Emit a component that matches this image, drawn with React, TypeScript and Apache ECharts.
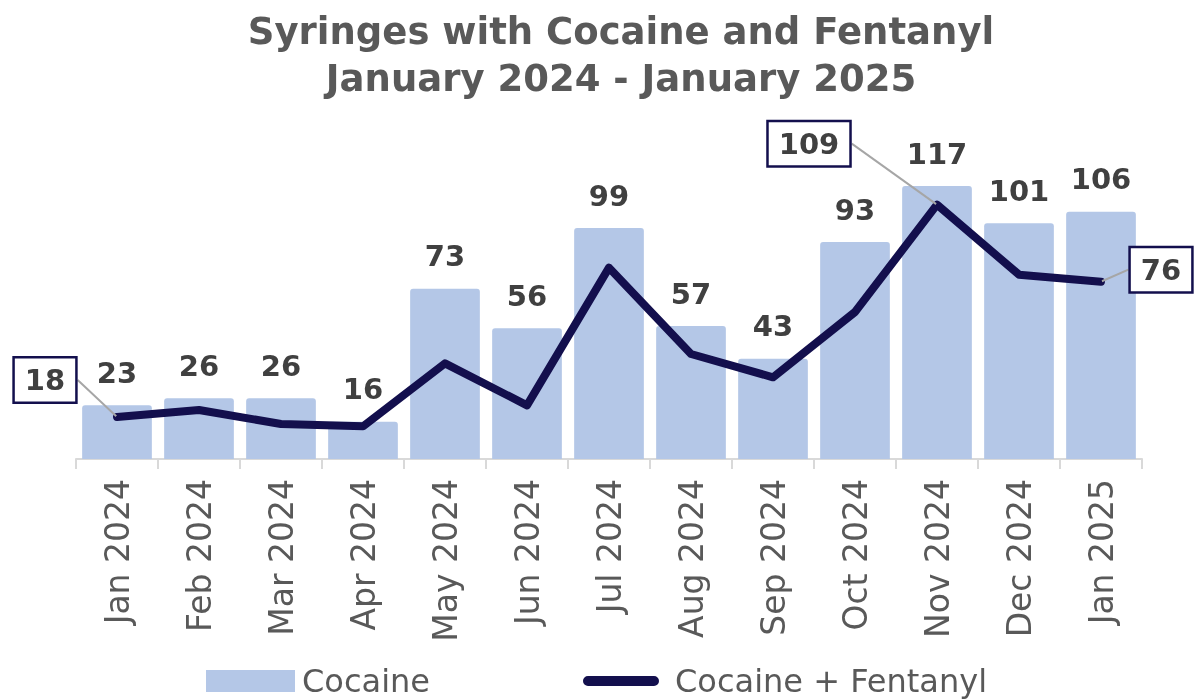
import React, { useEffect, useRef } from "react";
import * as echarts from "echarts";

const months = [
  "Jan 2024", "Feb 2024", "Mar 2024", "Apr 2024", "May 2024", "Jun 2024", "Jul 2024",
  "Aug 2024", "Sep 2024", "Oct 2024", "Nov 2024", "Dec 2024", "Jan 2025",
];
const cocaine = [23, 26, 26, 16, 73, 56, 99, 57, 43, 93, 117, 101, 106];
const cocaineFentanyl = [18, 21, 15, 14, 41, 23, 82, 45, 35, 63, 109, 79, 76];
const calloutIndices = [0, 10, 12];
const calloutOffsets: Record<number, [number, number]> = {
  0: [-72, -37],
  10: [-128, -61],
  12: [60, -12],
};

const FONT = "'DejaVu Sans', 'Noto Sans', sans-serif";
const NAVY = "#130F4D";
const RECT_ICON = "path://M0,0 L89,0 L89,22 L0,22 Z";
const LINE_ICON =
  "path://M0,6 Z M89,6 Z M9,6 L75,6 A5,5 0 0 1 75,16 L9,16 A5,5 0 0 1 9,6 Z";

export default function App() {
  const ref = useRef<HTMLDivElement>(null);
  useEffect(() => {
    document.body.style.margin = "0";
    const chart = echarts.init(ref.current!, undefined, { renderer: "svg" });
    const lineData = cocaineFentanyl.map((v, i) =>
      calloutIndices.includes(i)
        ? {
            value: v,
            label: {
              show: true,
              position: "inside",
              fontFamily: FONT,
              fontSize: 29,
              fontWeight: "bold",
              color: "#404040",
              backgroundColor: "#ffffff",
              borderColor: NAVY,
              borderWidth: 2.5,
              padding: [8, 10, 6, 10],
            },
          }
        : { value: v }
    );
    const legendCommon = {
      top: 665,
      padding: 0,
      itemWidth: 89,
      itemHeight: 22,
      itemGap: 0,
      symbolKeepAspect: true,
      textStyle: {
        fontFamily: FONT,
        fontSize: 32,
        color: "#595959",
        lineHeight: 32,
        padding: [0, 0, 0, 2],
      },
    };
    chart.setOption({
      animation: false,
      title: {
        text: "Syringes with Cocaine and Fentanyl\nJanuary 2024 - January 2025",
        left: 616,
        top: 3,
        textAlign: "center",
        textStyle: {
          fontFamily: FONT,
          fontSize: 37,
          fontWeight: "bold",
          color: "#595959",
          lineHeight: 47,
        },
      },
      legend: [
        { ...legendCommon, left: 206, data: [{ name: "Cocaine", icon: RECT_ICON }] },
        { ...legendCommon, left: 579, data: [{ name: "Cocaine + Fentanyl", icon: LINE_ICON }] },
      ],
      grid: { left: 76, right: 53, top: 179, bottom: 240 },
      xAxis: {
        type: "category",
        data: months,
        axisLine: { lineStyle: { color: "#D9D9D9", width: 2 } },
        axisTick: { show: true, length: 10, lineStyle: { color: "#D9D9D9", width: 2 } },
        axisLabel: {
          rotate: 90,
          margin: 20,
          fontFamily: FONT,
          fontSize: 33,
          color: "#595959",
        },
      },
      yAxis: {
        type: "value",
        min: 0,
        max: 120,
        show: false,
        splitLine: { show: false },
      },
      series: [
        {
          name: "Cocaine",
          type: "bar",
          data: cocaine,
          barCategoryGap: "15%",
          itemStyle: { color: "#B4C7E7", borderRadius: [3, 3, 0, 0] },
          label: {
            show: true,
            position: "top",
            distance: 18,
            fontFamily: FONT,
            fontSize: 29,
            fontWeight: "bold",
            color: "#404040",
          },
        },
        {
          name: "Cocaine + Fentanyl",
          type: "line",
          data: lineData,
          symbol: "circle",
          symbolSize: 2,
          showSymbol: true,
          itemStyle: { color: NAVY },
          lineStyle: { color: NAVY, width: 8, join: "round", cap: "round" },
          label: { show: false },
          labelLine: { show: true, lineStyle: { color: "#A6A6A6", width: 2 } },
          labelLayout: (params: any) => {
            const off = calloutOffsets[params.dataIndex];
            if (!off) return {};
            return { dx: off[0], dy: off[1] };
          },
          z: 5,
        },
      ],
    });
    return () => chart.dispose();
  }, []);
  return (
    <div
      ref={ref}
      style={{ position: "fixed", left: 0, top: 0, width: 1195, height: 699 }}
    />
  );
}
